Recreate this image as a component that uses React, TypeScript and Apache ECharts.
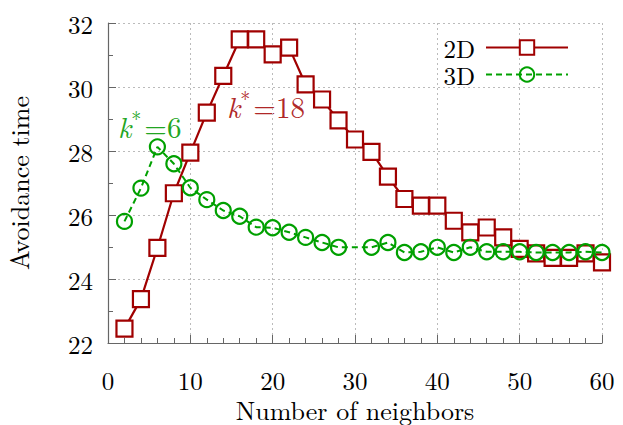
import React, { useEffect, useRef } from "react";
import * as echarts from "echarts";

const xs2D = [2, 4, 6, 8, 10, 12, 14, 16, 18, 20, 22, 24, 26, 28, 30, 32, 34, 36, 38, 40, 42, 44, 46, 48, 50, 52, 54, 56, 58, 60];
const vals2D = [22.45, 23.37, 24.97, 26.68, 27.95, 29.2, 30.35, 31.49, 31.49, 31.02, 31.23, 30.08, 29.61, 28.96, 28.36, 27.97, 27.2, 26.5, 26.29, 26.29, 25.82, 25.46, 25.61, 25.3, 24.94, 24.8, 24.66, 24.66, 24.8, 24.52];
const xs3D = [2, 4, 6, 8, 10, 12, 14, 16, 18, 20, 22, 24, 26, 28, 32, 34, 36, 38, 40, 42, 44, 46, 48, 50, 52, 54, 56, 58, 60];
const vals3D = [25.8, 26.84, 28.13, 27.6, 26.85, 26.48, 26.14, 25.96, 25.62, 25.6, 25.46, 25.3, 25.14, 24.99, 24.99, 25.14, 24.83, 24.85, 24.99, 24.83, 24.99, 24.85, 24.85, 24.85, 24.83, 24.83, 24.83, 24.85, 24.83];
const seriesNames = ["2D", "3D"];
const xTitle = "Number of neighbors";
const yTitle = "Avoidance time";

const FONT = "'Latin Modern Roman', 'Liberation Serif', serif";
const RED = "#a00000";
const GREEN = "#00a000";

export default function App() {
  const ref = useRef<HTMLDivElement>(null);
  useEffect(() => {
    if (!ref.current) return;
    const chart = echarts.init(ref.current, null, { renderer: "svg" });
    const d2 = xs2D.map((x, i) => [x, vals2D[i]]);
    const d3 = xs3D.map((x, i) => [x, vals3D[i]]);
    const legendBase = {
      orient: "vertical",
      right: 54,
      align: "right",
      itemWidth: 82,
      itemHeight: 18,
      itemGap: 0,
      padding: 0,
      textStyle: { fontSize: 25, lineHeight: 24, color: "#000", fontFamily: FONT, padding: [0, 6, 0, 0] },
    };
    chart.setOption({
      animation: false,
      backgroundColor: "#fff",
      textStyle: { fontFamily: FONT },
      grid: { left: 108, right: 21, top: 23, bottom: 82, containLabel: false, outerBoundsMode: "none" },
      xAxis: {
        type: "value",
        min: 0,
        max: 60,
        interval: 10,
        name: xTitle,
        nameLocation: "middle",
        nameGap: 52,
        nameTextStyle: { fontSize: 26, lineHeight: 26, color: "#000", fontFamily: FONT },
        axisLine: { show: true, lineStyle: { color: "#666", width: 1.2 } },
        axisTick: { show: true, inside: true, length: 8, lineStyle: { color: "#666" } },
        minorTick: { show: true, splitNumber: 5, length: 5, lineStyle: { color: "#666" } },
        axisLabel: { fontSize: 25, lineHeight: 20, color: "#000", margin: 26, fontFamily: FONT },
        splitLine: { show: true, lineStyle: { color: "#bbb", type: [2, 3], width: 1 } },
      },
      yAxis: {
        type: "value",
        min: 22,
        max: 32,
        interval: 2,
        name: yTitle,
        nameLocation: "middle",
        nameGap: 77,
        nameTextStyle: { fontSize: 26, color: "#000", fontFamily: FONT },
        axisLine: { show: true, lineStyle: { color: "#666", width: 1.2 } },
        axisTick: { show: true, inside: true, length: 8, lineStyle: { color: "#666" } },
        minorTick: { show: true, splitNumber: 2, length: 5, lineStyle: { color: "#666" } },
        axisLabel: { fontSize: 25, color: "#000", margin: 15, fontFamily: FONT },
        splitLine: { show: true, lineStyle: { color: "#bbb", type: [2, 3], width: 1 } },
      },
      legend: [
        { ...legendBase, top: 35, data: [seriesNames[0]] },
        { ...legendBase, top: 62, data: [seriesNames[1]] },
      ],
      series: [
        {
          name: seriesNames[0],
          type: "line",
          data: d2,
          symbol: "rect",
          symbolSize: 16,
          itemStyle: { color: "#fff", borderColor: RED, borderWidth: 2.2 },
          lineStyle: { color: RED, width: 2.2 },
          color: RED,
          z: 3,
        },
        {
          name: seriesNames[1],
          type: "line",
          data: d3,
          symbol: "circle",
          symbolSize: 15,
          itemStyle: { color: "rgba(255,255,255,0)", borderColor: GREEN, borderWidth: 2.2 },
          lineStyle: { color: GREEN, width: 2, type: [6, 4] },
          color: GREEN,
          z: 4,
        },
      ],
      graphic: [
        {
          type: "text",
          left: 118,
          top: 107,
          style: {
            text: "{k|k}{s|*}{e|=6}",
            rich: {
              k: { fontSize: 29, fontStyle: "italic", fill: "#22a522", fontFamily: FONT },
              s: { fontSize: 20, fill: "#22a522", fontFamily: FONT, verticalAlign: "top", padding: [0, 3, 16, 0] },
              e: { fontSize: 29, fill: "#22a522", fontFamily: FONT },
            },
          },
        },
        {
          type: "text",
          left: 227,
          top: 87,
          style: {
            text: "{k|k}{s|*}{e|=18}",
            rich: {
              k: { fontSize: 29, fontStyle: "italic", fill: "#b02828", fontFamily: FONT },
              s: { fontSize: 20, fill: "#b02828", fontFamily: FONT, verticalAlign: "top", padding: [0, 3, 16, 0] },
              e: { fontSize: 29, fill: "#b02828", fontFamily: FONT },
            },
          },
        },
      ],
    });
    return () => chart.dispose();
  }, []);
  return (
    <div
      ref={ref}
      style={{ position: "fixed", left: 0, top: 0, width: 623, height: 425, background: "#fff" }}
    />
  );
}
